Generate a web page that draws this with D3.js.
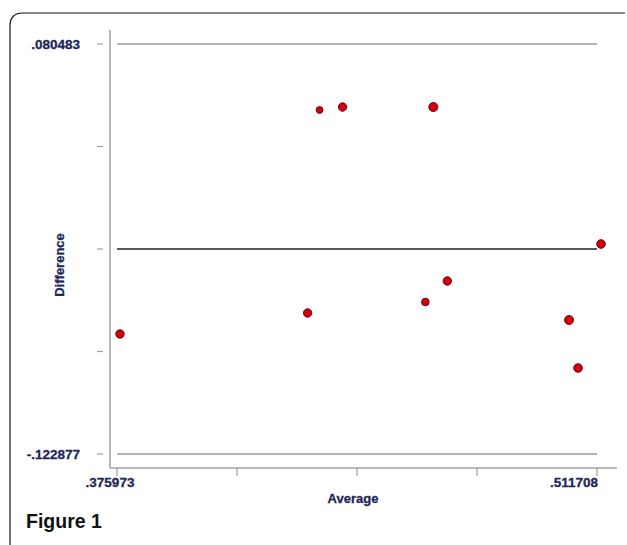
<!DOCTYPE html>
<html>
<head>
<meta charset="utf-8">
<script src="https://cdn.jsdelivr.net/npm/d3@7"></script>
<style>
body { margin: 0; background: #fff; }
svg text { font-family: "Liberation Sans", Arial, sans-serif; font-weight: bold; }
</style>
</head>
<body>
<div id="chart"></div>
<script>
// values (Bland-Altman style plot)
var average = [0.37682, 0.42987, 0.43326, 0.43975, 0.46543, 0.46317, 0.46938, 0.50381, 0.50634, 0.51284];
var difference = [-0.06336, -0.05294, 0.04775, 0.04923, 0.04923, -0.04749, -0.03707, -0.05641, -0.08022, -0.01872];
var pointSize = [4.2, 4.2, 3.4, 4.2, 4.5, 3.8, 4.2, 4.5, 4.3, 4.3];

var xTicks = [0.375973, 0.4099068, 0.4438405, 0.4777743, 0.511708];
var yTicks = [0.080483, 0.029643, -0.021197, -0.072037, -0.122877];
var limits = [0.080483, -0.021197, -0.122877];
var xLabels = ['.375973', '', '', '', '.511708'];
var yLabels = ['.080483', '', '', '', '-.122877'];

var W = 627, H = 545;
var ink = '#21265a';

var svg = d3.select('#chart').append('svg')
	.attr('width', W)
	.attr('height', H);

// frame with rounded corner
svg.append('path')
	.attr('d', 'M10,545 L10,26 Q10,13 23,13 L625,13')
	.attr('fill', 'none')
	.attr('stroke', '#111')
	.attr('stroke-width', 1.2);

var x = d3.scaleLinear()
	.domain([0.375973, 0.511708])
	.range([117, 597]);

var y = d3.scaleLinear()
	.domain([-0.122877, 0.080483])
	.range([454, 44]);

// axis lines
svg.append('line')
	.attr('x1', 110).attr('x2', 110)
	.attr('y1', 30).attr('y2', 468)
	.attr('stroke', '#a0a0a0').attr('stroke-width', 1.5);

svg.append('line')
	.attr('x1', 110).attr('x2', 617)
	.attr('y1', 468).attr('y2', 468)
	.attr('stroke', '#a0a0a0').attr('stroke-width', 1.5);

// y ticks (detached dashes)
svg.selectAll('.ytick')
	.data(yTicks).enter()
	.append('line')
	.attr('class', 'ytick')
	.attr('x1', 97).attr('x2', 103)
	.attr('y1', function(d) { return y(d); })
	.attr('y2', function(d) { return y(d); })
	.attr('stroke', '#a0a0a0').attr('stroke-width', 1.2);

svg.selectAll('.ylab')
	.data(yTicks).enter()
	.append('text')
	.attr('class', 'ylab')
	.attr('x', 80)
	.attr('y', function(d) { return y(d) + 5; })
	.attr('text-anchor', 'end')
	.attr('font-size', 13.5)
	.attr('fill', ink)
	.attr('stroke', ink).attr('stroke-width', 0.3)
	.text(function(d, i) { return yLabels[i]; });

// x ticks
svg.selectAll('.xtick')
	.data(xTicks).enter()
	.append('line')
	.attr('class', 'xtick')
	.attr('x1', function(d) { return x(d); })
	.attr('x2', function(d) { return x(d); })
	.attr('y1', 468).attr('y2', 476)
	.attr('stroke', '#a0a0a0').attr('stroke-width', 1.2);

svg.selectAll('.xlab')
	.data(xTicks).enter()
	.append('text')
	.attr('class', 'xlab')
	.attr('x', function(d, i) { return i == 0 ? x(d) - 7 : x(d) + 1; })
	.attr('y', 487)
	.attr('text-anchor', function(d, i) { return i == 0 ? 'middle' : 'end'; })
	.attr('font-size', 13.5)
	.attr('fill', ink)
	.attr('stroke', ink).attr('stroke-width', 0.3)
	.text(function(d, i) { return xLabels[i]; });

// limit lines and mean line
svg.selectAll('.limit')
	.data(limits).enter()
	.append('line')
	.attr('class', 'limit')
	.attr('x1', 117).attr('x2', 597)
	.attr('y1', function(d) { return y(d); })
	.attr('y2', function(d) { return y(d); })
	.attr('stroke', function(d, i) { return i == 1 ? '#5a5a5a' : '#9a9a9a'; })
	.attr('stroke-width', function(d, i) { return i == 1 ? 2 : 1.5; });

// points
svg.selectAll('.pt')
	.data(average).enter()
	.append('circle')
	.attr('class', 'pt')
	.attr('cx', function(d) { return x(d); })
	.attr('cy', function(d, i) { return y(difference[i]); })
	.attr('r', function(d, i) { return pointSize[i]; })
	.attr('fill', '#d0000f')
	.attr('stroke', '#7a0010')
	.attr('stroke-width', 1);

// axis titles
svg.append('text')
	.attr('x', 353)
	.attr('y', 503)
	.attr('text-anchor', 'middle')
	.attr('font-size', 13)
	.attr('fill', ink)
	.attr('stroke', ink).attr('stroke-width', 0.3)
	.text('Average');

svg.append('text')
	.attr('transform', 'translate(64,265) rotate(-90)')
	.attr('text-anchor', 'middle')
	.attr('font-size', 13)
	.attr('fill', ink)
	.attr('stroke', ink).attr('stroke-width', 0.3)
	.text('Difference');

svg.append('text')
	.attr('x', 26)
	.attr('y', 528)
	.attr('font-family', '"Open Sans", "Noto Sans", sans-serif')
	.attr('font-size', 19.5)
	.attr('font-weight', 'bold')
	.attr('fill', '#111')
	.text('Figure 1');
</script>
</body>
</html>
